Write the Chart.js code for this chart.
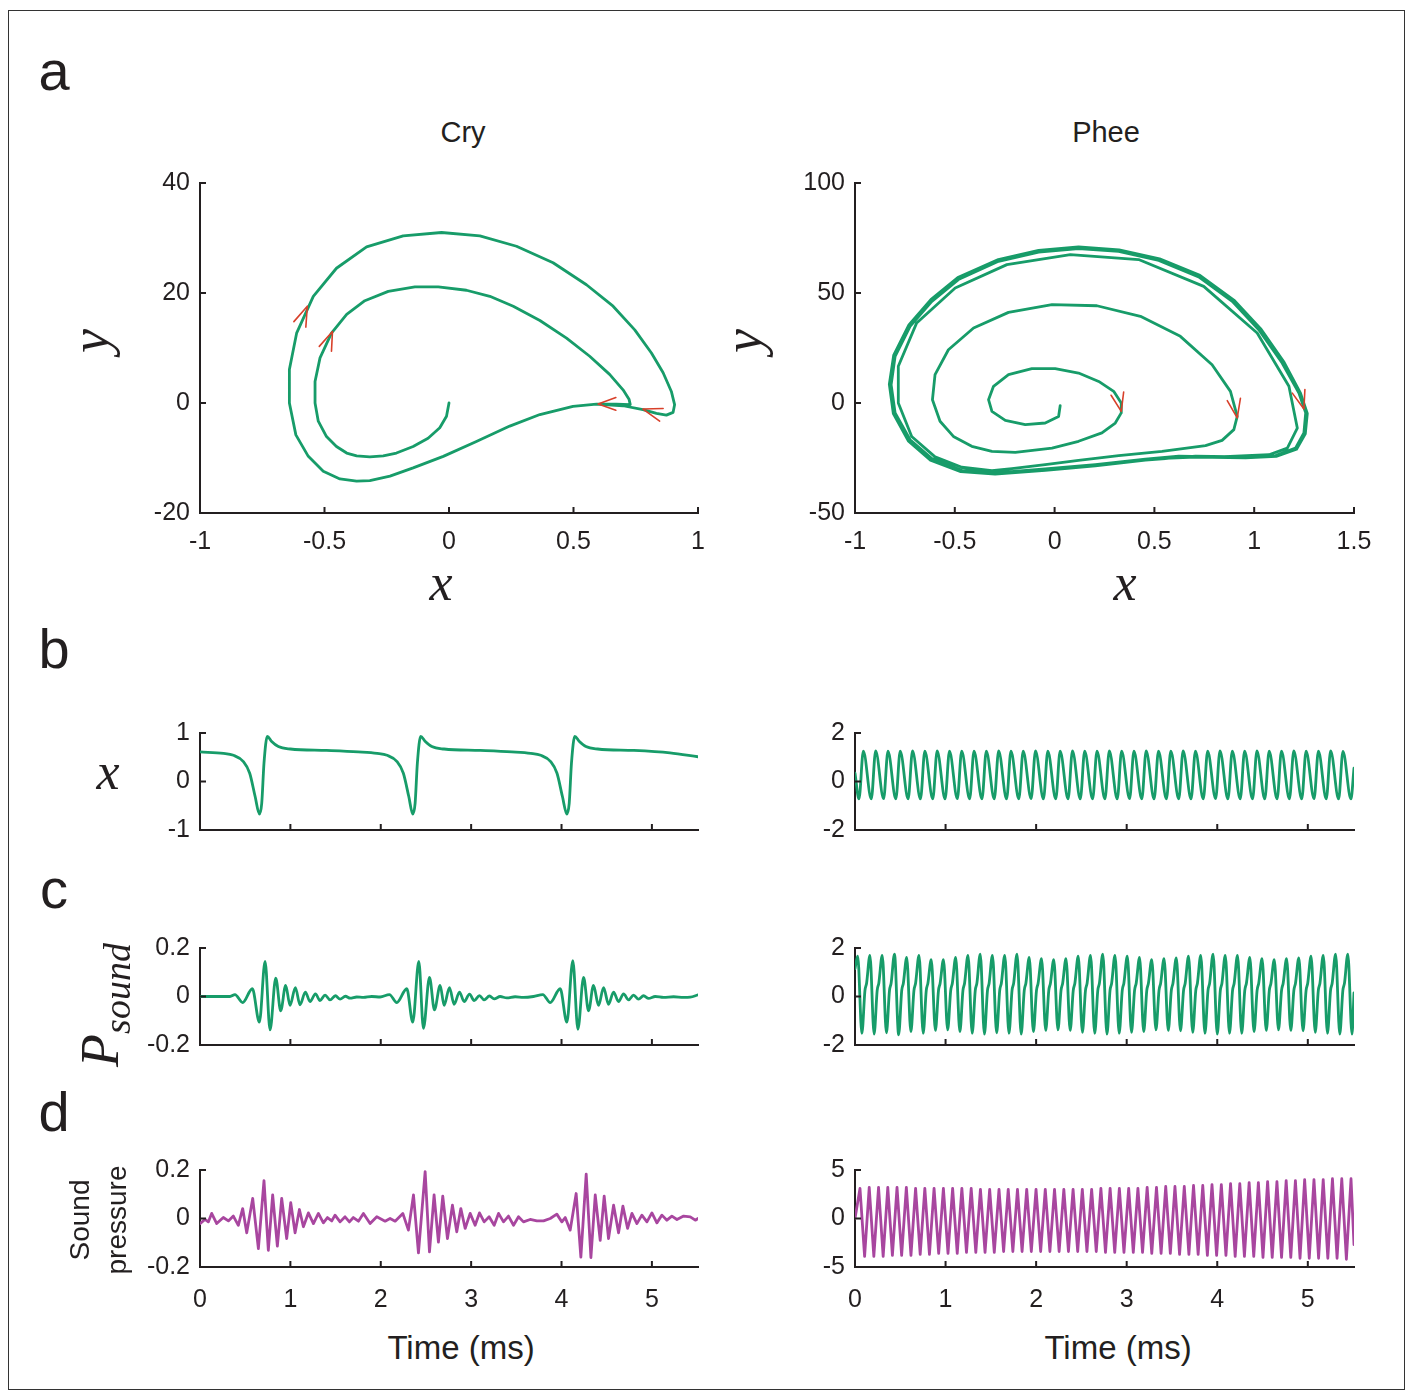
<!DOCTYPE html>
<html>
<head>
<meta charset="utf-8">
<script src="https://cdn.jsdelivr.net/npm/chart.js@4.4.1/dist/chart.umd.min.js"></script>
<style>
html, body { margin: 0; padding: 0; background: #fff; }
#fig { position: relative; width: 1413px; height: 1395px; overflow: hidden; background: #fff; }
#frame { position: absolute; left: 8px; top: 10px; width: 1397px; height: 1380px; border: 1.5px solid #333; box-sizing: border-box; }
canvas { position: absolute; }
.lbl { position: absolute; white-space: nowrap; line-height: 1; font-family: "Liberation Sans", Arial, Helvetica, sans-serif; color: #231f20; }
.math { font-family: "Liberation Serif", "Times New Roman", serif; font-style: italic; }
</style>
</head>
<body>
<div id="fig"><div id="frame"></div></div>
<script>
const GREEN = '#179c69', MAGENTA = '#a8469f', RED = '#d8402a', AXIS = '#231f20';
const TICK_FONT = { family: '"Liberation Sans", Arial, sans-serif', size: 25 };

// ---- tick labels
const cryXTicks = [-1, -0.5, 0, 0.5, 1];
const cryYTicks = [-20, 0, 20, 40];
const pheeXTicks = [-1, -0.5, 0, 0.5, 1, 1.5];
const pheeYTicks = [-50, 0, 50, 100];
const timeTicks = [0, 1, 2, 3, 4, 5];

// ---- a) phase portraits
const cryPhaseX = [0.000, -0.010, -0.037, -0.084, -0.144, -0.211, -0.264, -0.318, -0.371, -0.411, -0.452, -0.492, -0.525, -0.538, -0.538, -0.518,
  -0.472, -0.411, -0.338, -0.244, -0.137, -0.043, 0.070, 0.164, 0.258, 0.365, 0.472, 0.565, 0.645, 0.699, 0.723, 0.728,
  0.672, 0.592, 0.498, 0.365, 0.244, 0.110, -0.023, -0.144, -0.237, -0.318, -0.371, -0.438, -0.505, -0.565, -0.615, -0.641,
  -0.641, -0.612, -0.545, -0.452, -0.331, -0.184, -0.030, 0.124, 0.271, 0.418, 0.552, 0.659, 0.746, 0.813, 0.860, 0.893,
  0.906, 0.900, 0.873, 0.833, 0.779, 0.699, 0.592, 0.498];
const cryPhaseY = [0.0, -2.4, -4.5, -6.4, -7.9, -9.1, -9.6, -9.8, -9.6, -9.1, -7.9, -6.1, -3.3, 0.0, 3.9, 8.2,
  12.7, 16.1, 18.6, 20.3, 21.1, 21.1, 20.5, 19.4, 17.6, 15.0, 11.8, 8.5, 5.2, 2.4, 0.7, -0.3,
  -0.2, -0.2, -0.6, -2.1, -4.2, -7.0, -9.7, -11.8, -13.3, -14.1, -14.2, -13.8, -12.4, -9.7, -5.8, 0.0,
  6.1, 12.7, 19.4, 24.5, 28.4, 30.4, 31.0, 30.4, 28.5, 25.5, 21.5, 17.6, 13.3, 9.1, 5.5, 2.1,
  -0.3, -1.7, -2.2, -1.9, -1.2, -0.5, -0.2, -0.6];
// arrow heads: wing, tip, wing
const cryArrows = [
  { x: [-0.623, -0.569, -0.575], y: [14.8, 17.6, 13.8] },
  { x: [-0.521, -0.468, -0.472], y: [10.3, 13.0, 9.4] },
  { x: [0.670, 0.599, 0.670], y: [1.0, -0.2, -1.3] },
  { x: [0.860, 0.779, 0.846], y: [-1.0, -1.1, -3.3] }
];

const pheeSpiralX = [0.028, 0.020, -0.047, -0.147, -0.247, -0.314, -0.331, -0.306, -0.231, -0.114, 0.003, 0.120, 0.221, 0.296, 0.334, 0.334,
  0.304, 0.237, 0.120, -0.013, -0.197, -0.314, -0.415, -0.507, -0.574, -0.612, -0.599, -0.532, -0.406, -0.231, -0.013, 0.212,
  0.430, 0.630, 0.789, 0.881, 0.915, 0.898, 0.839, 0.756, 0.538, 0.321, 0.120, -0.047, -0.214, -0.314, -0.465, -0.599,
  -0.716, -0.783, -0.783, -0.691, -0.498, -0.239, 0.079, 0.421, 0.747, 1.015, 1.174, 1.216, 1.166, 1.074, 0.823, 0.622];
const pheeSpiralY = [-1.2, -6.1, -9.1, -9.8, -7.9, -3.8, 1.5, 7.6, 12.9, 15.6, 15.6, 13.6, 9.8, 5.3, 0.0, -4.5,
  -9.1, -13.6, -17.4, -20.5, -22.4, -22.0, -19.7, -15.2, -8.3, 1.5, 12.9, 24.2, 34.1, 41.2, 44.7, 44.2,
  39.4, 30.3, 17.4, 5.3, -6.1, -12.1, -17.0, -19.4, -22.0, -23.9, -26.1, -28.0, -29.8, -30.8, -29.2, -24.5,
  -15.2, 0.0, 16.7, 36.4, 52.3, 62.9, 67.4, 65.2, 53.0, 31.8, 7.6, -11.4, -20.5, -23.5, -24.5, -24.2];
const pheeLoopAX = [0.455, 0.204, -0.047, -0.298, -0.465, -0.615, -0.724, -0.799, -0.819, -0.799, -0.724, -0.615, -0.482, -0.281, -0.080,
  0.120, 0.321, 0.522, 0.722, 0.890, 1.023, 1.140, 1.224, 1.258, 1.249, 1.207, 1.107, 0.957, 0.706];
const pheeLoopAY = [-25.5, -28.0, -30.0, -31.8, -30.6, -25.3, -16.7, -4.5, 8.3, 21.2, 34.8, 46.2, 56.1, 64.4, 68.6,
  70.2, 68.9, 64.8, 57.3, 46.2, 33.3, 18.2, 4.5, -4.5, -13.6, -20.5, -23.9, -24.5, -24.2];
const pheeLoopBX = [0.455, 0.204, -0.047, -0.298, -0.470, -0.622, -0.733, -0.808, -0.828, -0.806, -0.730, -0.620, -0.485, -0.282, -0.080,
  0.120, 0.323, 0.526, 0.728, 0.898, 1.032, 1.150, 1.232, 1.266, 1.256, 1.212, 1.110, 0.957, 0.706, 0.455];
const pheeLoopBY = [-26.0, -28.6, -30.6, -32.3, -31.2, -26.0, -17.2, -4.8, 8.5, 21.8, 35.5, 47.0, 57.0, 65.2, 69.4,
  71.0, 69.6, 65.5, 58.0, 46.8, 33.8, 18.5, 4.5, -4.8, -14.0, -21.0, -24.3, -24.9, -24.6, -25.5];
const pheeArrows = [
  { x: [0.283, 0.334, 0.346], y: [3.5, -3.8, 5.0] },
  { x: [0.865, 0.915, 0.931], y: [1.1, -6.8, 2.1] },
  { x: [1.191, 1.249, 1.254], y: [4.5, -2.7, 6.1] }
];

// ---- b) x(t)
const cryXT = [0, 0.26, 0.37, 0.48, 0.55, 0.61, 0.657, 0.683, 0.708, 0.745, 0.79, 0.867, 1.0, 1.4, 1.75,
  1.96, 2.07, 2.18, 2.25, 2.31, 2.354, 2.38, 2.405, 2.442, 2.49, 2.565, 2.70, 3.10, 3.45,
  3.66, 3.77, 3.88, 3.95, 4.01, 4.059, 4.085, 4.11, 4.147, 4.195, 4.27, 4.40, 4.80, 5.20, 5.51];
const cryXV = [0.61, 0.58, 0.54, 0.41, 0.17, -0.31, -0.67, -0.45, 0.38, 0.93, 0.83, 0.72, 0.67, 0.64, 0.61,
  0.58, 0.54, 0.41, 0.17, -0.31, -0.67, -0.45, 0.38, 0.93, 0.83, 0.72, 0.67, 0.64, 0.61,
  0.58, 0.54, 0.41, 0.17, -0.31, -0.67, -0.45, 0.38, 0.93, 0.83, 0.72, 0.67, 0.64, 0.59, 0.51];

const pheeXT = [0,
  0.044, 0.092, 0.180, 0.228, 0.316, 0.364, 0.451, 0.499, 0.587, 0.635, 0.723, 0.771, 0.859, 0.907, 0.995, 1.043, 1.130, 1.178, 1.266, 1.314,
  1.402, 1.450, 1.538, 1.586, 1.674, 1.722, 1.809, 1.857, 1.945, 1.993, 2.081, 2.129, 2.217, 2.265, 2.353, 2.401, 2.488, 2.536, 2.624, 2.672,
  2.760, 2.808, 2.896, 2.944, 3.032, 3.080, 3.167, 3.215, 3.303, 3.351, 3.439, 3.487, 3.575, 3.623, 3.711, 3.759, 3.846, 3.894, 3.982, 4.030,
  4.118, 4.166, 4.254, 4.302, 4.390, 4.438, 4.525, 4.573, 4.661, 4.709, 4.797, 4.845, 4.933, 4.981, 5.069, 5.117, 5.204, 5.252, 5.340, 5.388,
  5.476, 5.510];
const pheeXV = [0.34,
  -0.72, 1.25, -0.72, 1.26, -0.71, 1.25, -0.72, 1.25, -0.72, 1.26, -0.72, 1.25, -0.72, 1.26, -0.72, 1.25, -0.71, 1.25, -0.72, 1.25,
  -0.72, 1.25, -0.72, 1.26, -0.72, 1.25, -0.72, 1.25, -0.71, 1.26, -0.72, 1.25, -0.72, 1.25, -0.72, 1.26, -0.72, 1.25, -0.72, 1.25,
  -0.72, 1.26, -0.72, 1.25, -0.71, 1.25, -0.72, 1.26, -0.72, 1.25, -0.72, 1.25, -0.72, 1.26, -0.72, 1.25, -0.72, 1.25, -0.71, 1.26,
  -0.72, 1.25, -0.72, 1.25, -0.72, 1.26, -0.72, 1.25, -0.72, 1.25, -0.72, 1.26, -0.72, 1.25, -0.71, 1.25, -0.72, 1.26, -0.72, 1.24,
  -0.72, 0.55];

// ---- c) P_sound(t)
const cryPT = [0, 0.258, 0.332, 0.387, 0.472, 0.579, 0.657, 0.720, 0.775, 0.838, 0.893, 0.948, 0.996, 1.055, 1.107, 1.166, 1.218, 1.277, 1.328, 1.384,
  1.439, 1.498, 1.550, 1.609, 1.661, 1.734, 1.808, 1.900, 1.993,
  2.096, 2.177, 2.288, 2.354, 2.421, 2.472, 2.539, 2.594, 2.657, 2.701, 2.760, 2.812, 2.871, 2.923, 2.982, 3.033, 3.092, 3.144, 3.203, 3.255,
  3.321, 3.395, 3.487, 3.579, 3.690,
  3.793, 3.875, 3.985, 4.059, 4.125, 4.181, 4.244, 4.299, 4.354, 4.410, 4.465, 4.520, 4.576, 4.631, 4.686, 4.742, 4.797, 4.852, 4.908, 4.963,
  5.037, 5.129, 5.240, 5.351, 5.424, 5.510];
const cryPV = [0, 0, 0, 0.008, -0.025, 0.032, -0.106, 0.145, -0.138, 0.076, -0.059, 0.046, -0.037, 0.037, -0.034, 0.018, -0.021, 0.011, -0.017, 0.006,
  -0.014, 0.003, -0.011, 0.001, -0.007, -0.002, -0.004, 0.000, -0.002,
  0.008, -0.025, 0.032, -0.106, 0.145, -0.131, 0.079, -0.055, 0.046, -0.037, 0.037, -0.032, 0.018, -0.021, 0.010, -0.017, 0.004, -0.014, 0.002, -0.010,
  0.000, -0.006, -0.001, -0.004, 0.000,
  0.008, -0.025, 0.032, -0.106, 0.148, -0.135, 0.079, -0.059, 0.046, -0.037, 0.037, -0.032, 0.018, -0.021, 0.011, -0.014, 0.006, -0.011, 0.003, -0.008,
  0.000, -0.004, -0.001, -0.004, -0.003, 0.007];

const pheePT = [0,
  0.030, 0.076, 0.110, 0.128, 0.165, 0.211, 0.245, 0.263, 0.301, 0.347, 0.381, 0.399, 0.436, 0.482, 0.516, 0.534,
  0.571, 0.617, 0.651, 0.669, 0.707, 0.753, 0.787, 0.805, 0.842, 0.888, 0.922, 0.940, 0.977, 1.023, 1.057, 1.075,
  1.112, 1.158, 1.192, 1.210, 1.248, 1.294, 1.328, 1.346, 1.383, 1.429, 1.463, 1.481, 1.518, 1.564, 1.598, 1.616,
  1.654, 1.700, 1.734, 1.752, 1.789, 1.835, 1.869, 1.887, 1.924, 1.970, 2.004, 2.022, 2.060, 2.106, 2.140, 2.158,
  2.195, 2.241, 2.275, 2.293, 2.330, 2.376, 2.410, 2.428, 2.465, 2.511, 2.545, 2.563, 2.601, 2.647, 2.681, 2.699,
  2.736, 2.782, 2.816, 2.834, 2.871, 2.917, 2.951, 2.969, 3.007, 3.053, 3.087, 3.105, 3.142, 3.188, 3.222, 3.240,
  3.277, 3.323, 3.357, 3.375, 3.413, 3.459, 3.493, 3.511, 3.548, 3.594, 3.628, 3.646, 3.683, 3.729, 3.763, 3.781,
  3.818, 3.864, 3.898, 3.916, 3.954, 4.000, 4.034, 4.052, 4.089, 4.135, 4.169, 4.187, 4.224, 4.270, 4.304, 4.322,
  4.360, 4.406, 4.440, 4.458, 4.495, 4.541, 4.575, 4.593, 4.630, 4.676, 4.710, 4.728, 4.766, 4.812, 4.846, 4.864,
  4.901, 4.947, 4.981, 4.999, 5.036, 5.082, 5.116, 5.134, 5.171, 5.217, 5.251, 5.269, 5.307, 5.353, 5.387, 5.405,
  5.442, 5.488, 5.510];
const pheePV = [1.15,
  1.66, -1.52, 0.25, 0.55, 1.70, -1.55, 0.25, 0.55, 1.70, -1.50, 0.25, 0.55, 1.75, -1.58, 0.25, 0.55,
  1.61, -1.45, 0.25, 0.55, 1.70, -1.52, 0.25, 0.55, 1.52, -1.40, 0.25, 0.55, 1.52, -1.38, 0.25, 0.55,
  1.61, -1.45, 0.25, 0.55, 1.70, -1.52, 0.25, 0.55, 1.75, -1.55, 0.25, 0.55, 1.70, -1.50, 0.25, 0.55,
  1.70, -1.52, 0.25, 0.55, 1.75, -1.55, 0.25, 0.55, 1.61, -1.45, 0.25, 0.55, 1.56, -1.40, 0.25, 0.55,
  1.52, -1.38, 0.25, 0.55, 1.56, -1.40, 0.25, 0.55, 1.66, -1.48, 0.25, 0.55, 1.70, -1.52, 0.25, 0.55,
  1.75, -1.55, 0.25, 0.55, 1.70, -1.52, 0.25, 0.55, 1.66, -1.48, 0.25, 0.55, 1.61, -1.45, 0.25, 0.55,
  1.52, -1.38, 0.25, 0.55, 1.56, -1.40, 0.25, 0.55, 1.59, -1.42, 0.25, 0.55, 1.66, -1.48, 0.25, 0.55,
  1.70, -1.52, 0.25, 0.55, 1.75, -1.55, 0.25, 0.55, 1.70, -1.52, 0.25, 0.55, 1.70, -1.52, 0.25, 0.55,
  1.61, -1.45, 0.25, 0.55, 1.56, -1.40, 0.25, 0.55, 1.52, -1.38, 0.25, 0.55, 1.56, -1.40, 0.25, 0.55,
  1.59, -1.42, 0.25, 0.55, 1.66, -1.48, 0.25, 0.55, 1.70, -1.52, 0.25, 0.55, 1.75, -1.55, 0.25, 0.55,
  1.75, -1.55, 0.15];

// ---- d) recorded sound pressure
const cryST = [0, 0.055, 0.092, 0.129, 0.185, 0.258, 0.314, 0.369, 0.424, 0.472,
  0.517, 0.583, 0.646, 0.708, 0.756, 0.804, 0.856, 0.904, 0.959, 1.004,
  1.052, 1.100, 1.144, 1.199, 1.255, 1.310, 1.365, 1.410, 1.458, 1.494,
  1.550, 1.605, 1.653, 1.697, 1.753, 1.808, 1.882, 1.956, 2.048, 2.103,
  2.159, 2.244, 2.306, 2.362, 2.417, 2.491, 2.539, 2.590, 2.638, 2.686,
  2.738, 2.793, 2.841, 2.886, 2.934, 2.989, 3.044, 3.092, 3.144, 3.199,
  3.255, 3.303, 3.358, 3.413, 3.469, 3.524, 3.579, 3.653, 3.727, 3.801,
  3.875, 3.948, 4.004, 4.041, 4.096, 4.162, 4.214, 4.273, 4.325, 4.373,
  4.428, 4.472, 4.520, 4.576, 4.631, 4.679, 4.731, 4.779, 4.834, 4.889,
  4.945, 5.000, 5.055, 5.111, 5.166, 5.221, 5.277, 5.351, 5.424, 5.480, 5.510];
const crySV = [-0.021, -0.004, -0.014, 0.021, -0.021, 0.004, -0.010, 0.010, -0.028, 0.041,
  -0.059, 0.083, -0.124, 0.156, -0.131, 0.097, -0.114, 0.083, -0.083, 0.065,
  -0.059, 0.037, -0.034, 0.023, -0.021, 0.021, -0.018, 0.004, -0.010, 0.014,
  -0.014, 0.007, -0.014, 0.004, -0.011, 0.021, -0.021, 0.007, -0.011, 0.000,
  -0.011, 0.021, -0.048, 0.097, -0.142, 0.193, -0.138, 0.097, -0.097, 0.092,
  -0.083, 0.055, -0.055, 0.041, -0.041, 0.021, -0.028, 0.023, -0.014, 0.007,
  -0.028, 0.021, -0.014, 0.010, -0.028, 0.007, -0.014, -0.004, -0.010, -0.010,
  0.000, 0.018, -0.014, 0.004, -0.048, 0.103, -0.159, 0.183, -0.161, 0.097,
  -0.090, 0.092, -0.083, 0.055, -0.059, 0.051, -0.041, 0.021, -0.021, 0.014,
  -0.014, 0.023, -0.018, 0.014, -0.007, 0.010, -0.004, 0.010, 0.007, -0.007, 0.000];

const pheeST = [0,
  0.055, 0.106, 0.157, 0.208, 0.260, 0.311, 0.362, 0.413, 0.464, 0.515,
  0.567, 0.618, 0.669, 0.720, 0.771, 0.822, 0.873, 0.924, 0.976, 1.027,
  1.078, 1.129, 1.180, 1.231, 1.283, 1.334, 1.385, 1.436, 1.487, 1.538,
  1.590, 1.641, 1.692, 1.743, 1.794, 1.845, 1.896, 1.947, 1.999, 2.050,
  2.101, 2.152, 2.203, 2.254, 2.306, 2.357, 2.408, 2.459, 2.510, 2.561,
  2.613, 2.664, 2.715, 2.766, 2.817, 2.868, 2.919, 2.970, 3.022, 3.073,
  3.124, 3.175, 3.226, 3.277, 3.329, 3.380, 3.431, 3.482, 3.533, 3.584,
  3.636, 3.687, 3.738, 3.789, 3.840, 3.891, 3.942, 3.993, 4.045, 4.096,
  4.147, 4.198, 4.249, 4.300, 4.352, 4.403, 4.454, 4.505, 4.556, 4.607,
  4.659, 4.710, 4.761, 4.812, 4.863, 4.914, 4.965, 5.016, 5.068, 5.119,
  5.170, 5.221, 5.272, 5.323, 5.375, 5.426, 5.477, 5.510];
const pheeSV = [0,
  3.1, -3.9, 3.2, -3.9, 3.2, -3.9, 3.2, -3.8, 3.2, -3.8,
  3.2, -3.8, 3.1, -3.7, 3.1, -3.7, 3.1, -3.6, 3.1, -3.6,
  3.1, -3.6, 3.1, -3.5, 3.1, -3.5, 3.0, -3.5, 3.0, -3.5,
  3.0, -3.4, 3.0, -3.4, 3.0, -3.4, 3.0, -3.4, 3.0, -3.4,
  3.0, -3.4, 3.0, -3.4, 3.0, -3.4, 3.0, -3.4, 3.0, -3.4,
  3.0, -3.4, 3.1, -3.5, 3.1, -3.5, 3.1, -3.5, 3.1, -3.5,
  3.1, -3.5, 3.2, -3.6, 3.2, -3.6, 3.3, -3.6, 3.3, -3.7,
  3.3, -3.7, 3.4, -3.7, 3.4, -3.8, 3.5, -3.8, 3.5, -3.8,
  3.6, -3.9, 3.6, -3.9, 3.7, -3.9, 3.7, -4.0, 3.8, -4.0,
  3.8, -4.0, 3.9, -4.0, 3.9, -4.1, 4.0, -4.1, 4.0, -4.1,
  4.0, -4.1, 4.1, -4.1, 4.1, -4.2, 4.1, -2.7];

const fig = document.getElementById('fig');
const PAD_L = 90, PAD_T = 18, PAD_R = 30;

function pts(xs, ys) { return xs.map((x, i) => ({ x: x, y: ys[i] })); }

function line(data, color, width, smooth) {
  return {
    data: data, borderColor: color, borderWidth: width, pointRadius: 0, fill: false,
    tension: 0, cubicInterpolationMode: smooth ? 'monotone' : 'default',
    borderJoinStyle: 'round', borderCapStyle: 'round'
  };
}

// MATLAB style ticks pointing into the axes
const innerTicks = {
  id: 'innerTicks',
  afterDraw(chart) {
    const { ctx, chartArea: a, scales: { x, y } } = chart;
    ctx.save();
    ctx.strokeStyle = AXIS;
    ctx.lineWidth = 2;
    ctx.beginPath();
    x.ticks.forEach(t => {
      const px = x.getPixelForValue(t.value);
      ctx.moveTo(px, a.bottom); ctx.lineTo(px, a.bottom - 6);
    });
    y.ticks.forEach(t => {
      const py = y.getPixelForValue(t.value);
      ctx.moveTo(a.left, py); ctx.lineTo(a.left + 6, py);
    });
    ctx.stroke();
    ctx.restore();
  }
};

function panel(box, opt) {
  const padB = opt.xLabels ? 56 : 8;
  const W = box.r - box.l + PAD_L + PAD_R, H = box.b - box.t + PAD_T + padB;
  const cv = document.createElement('canvas');
  cv.width = W; cv.height = H;
  cv.style.left = (box.l - PAD_L) + 'px';
  cv.style.top = (box.t - PAD_T) + 'px';
  cv.style.width = W + 'px'; cv.style.height = H + 'px';
  fig.appendChild(cv);

  const axis = (o, isX) => ({
    type: 'linear', min: o.min, max: o.max,
    afterBuildTicks: s => { s.ticks = o.ticks.map(v => ({ value: v })); },
    afterFit: s => {
      // fixed axis size, no extra room for overhanging labels
      if (isX) s.height = padB; else s.width = PAD_L;
      s.paddingTop = 0; s.paddingBottom = 0; s.paddingLeft = 0; s.paddingRight = 0;
    },
    grid: { display: true, drawOnChartArea: false, drawTicks: false },
    border: { display: true, color: AXIS, width: 2 },
    ticks: {
      display: isX ? opt.xLabels : true, padding: isX ? (opt.xPad || 14) : 10, color: AXIS, font: TICK_FONT,
      autoSkip: false, maxRotation: 0, callback: v => String(v)
    }
  });

  new Chart(cv, {
    type: 'line',
    data: { datasets: opt.datasets },
    options: {
      responsive: false, animation: false, events: [], devicePixelRatio: 1,
      layout: { padding: { top: PAD_T, right: PAD_R, left: 0, bottom: 0 } },
      plugins: { legend: { display: false }, tooltip: { enabled: false } },
      scales: { x: axis(opt.x, true), y: axis(opt.y, false) }
    },
    plugins: [innerTicks]
  });
}

const arrowSets = (list) => list.map(a => line(pts(a.x, a.y), RED, 1.6, false));

// a
panel({ l: 200, r: 698, t: 183, b: 513 }, {
  xLabels: true,
  x: { min: -1, max: 1, ticks: cryXTicks },
  y: { min: -20, max: 40, ticks: cryYTicks },
  datasets: [...arrowSets(cryArrows), line(pts(cryPhaseX, cryPhaseY), GREEN, 2.8, false)]
});
panel({ l: 855, r: 1354, t: 183, b: 513 }, {
  xLabels: true,
  x: { min: -1, max: 1.5, ticks: pheeXTicks },
  y: { min: -50, max: 100, ticks: pheeYTicks },
  datasets: [...arrowSets(pheeArrows),
    line(pts([...pheeSpiralX, ...pheeLoopAX, ...pheeLoopBX], [...pheeSpiralY, ...pheeLoopAY, ...pheeLoopBY]), GREEN, 2.8, false)]
});

// b
panel({ l: 200, r: 698, t: 733, b: 830 }, {
  xLabels: false, x: { min: 0, max: 5.51, ticks: timeTicks }, y: { min: -1, max: 1, ticks: [-1, 0, 1] },
  datasets: [line(pts(cryXT, cryXV), GREEN, 2.8, true)]
});
panel({ l: 855, r: 1354, t: 733, b: 830 }, {
  xLabels: false, x: { min: 0, max: 5.51, ticks: timeTicks }, y: { min: -2, max: 2, ticks: [-2, 0, 2] },
  datasets: [line(pts(pheeXT, pheeXV), GREEN, 2.8, true)]
});

// c
panel({ l: 200, r: 698, t: 948, b: 1045 }, {
  xLabels: false, x: { min: 0, max: 5.51, ticks: timeTicks }, y: { min: -0.2, max: 0.2, ticks: [-0.2, 0, 0.2] },
  datasets: [line(pts(cryPT, cryPV), GREEN, 2.8, true)]
});
panel({ l: 855, r: 1354, t: 948, b: 1045 }, {
  xLabels: false, x: { min: 0, max: 5.51, ticks: timeTicks }, y: { min: -2, max: 2, ticks: [-2, 0, 2] },
  datasets: [line(pts(pheePT, pheePV), GREEN, 2.8, true)]
});

// d
panel({ l: 200, r: 698, t: 1170, b: 1267 }, {
  xLabels: true, xPad: 18, x: { min: 0, max: 5.51, ticks: timeTicks }, y: { min: -0.2, max: 0.2, ticks: [-0.2, 0, 0.2] },
  datasets: [line(pts(cryST, crySV), MAGENTA, 2.8, false)]
});
panel({ l: 855, r: 1354, t: 1170, b: 1267 }, {
  xLabels: true, xPad: 18, x: { min: 0, max: 5.51, ticks: timeTicks }, y: { min: -5, max: 5, ticks: [-5, 0, 5] },
  datasets: [line(pts(pheeST, pheeSV), MAGENTA, 2.8, false)]
});

// ---- text
function label(html, x, y, size, cls, rot, extra) {
  const d = document.createElement('div');
  d.className = 'lbl' + (cls ? ' ' + cls : '');
  d.innerHTML = html;
  d.style.left = x + 'px';
  d.style.top = y + 'px';
  d.style.fontSize = size + 'px';
  d.style.transform = 'translate(-50%,-50%)' + (rot ? ' rotate(' + rot + 'deg)' : '');
  if (extra) Object.assign(d.style, extra);
  fig.appendChild(d);
}

label('a', 54, 71, 56);
label('b', 54, 649, 56);
label('c', 54, 889, 56);
label('d', 54, 1112, 56);
label('Cry', 463, 132, 29);
label('Phee', 1106, 132, 29);
label('x', 441, 583, 52, 'math');
label('x', 1125, 583, 52, 'math');
label('y', 90, 341, 54, 'math', -90);
label('y', 743, 341, 54, 'math', -90);
label('x', 108, 772, 52, 'math');
label('P<span style="font-size:38px;position:relative;top:12px">sound</span>', 100, 1005, 54, 'math', -90);
label('Sound<br>pressure', 98, 1220, 28, '', -90, { lineHeight: '37px', textAlign: 'center' });
label('Time (ms)', 461, 1347, 33);
label('Time (ms)', 1118, 1347, 33);
</script>
</body>
</html>
